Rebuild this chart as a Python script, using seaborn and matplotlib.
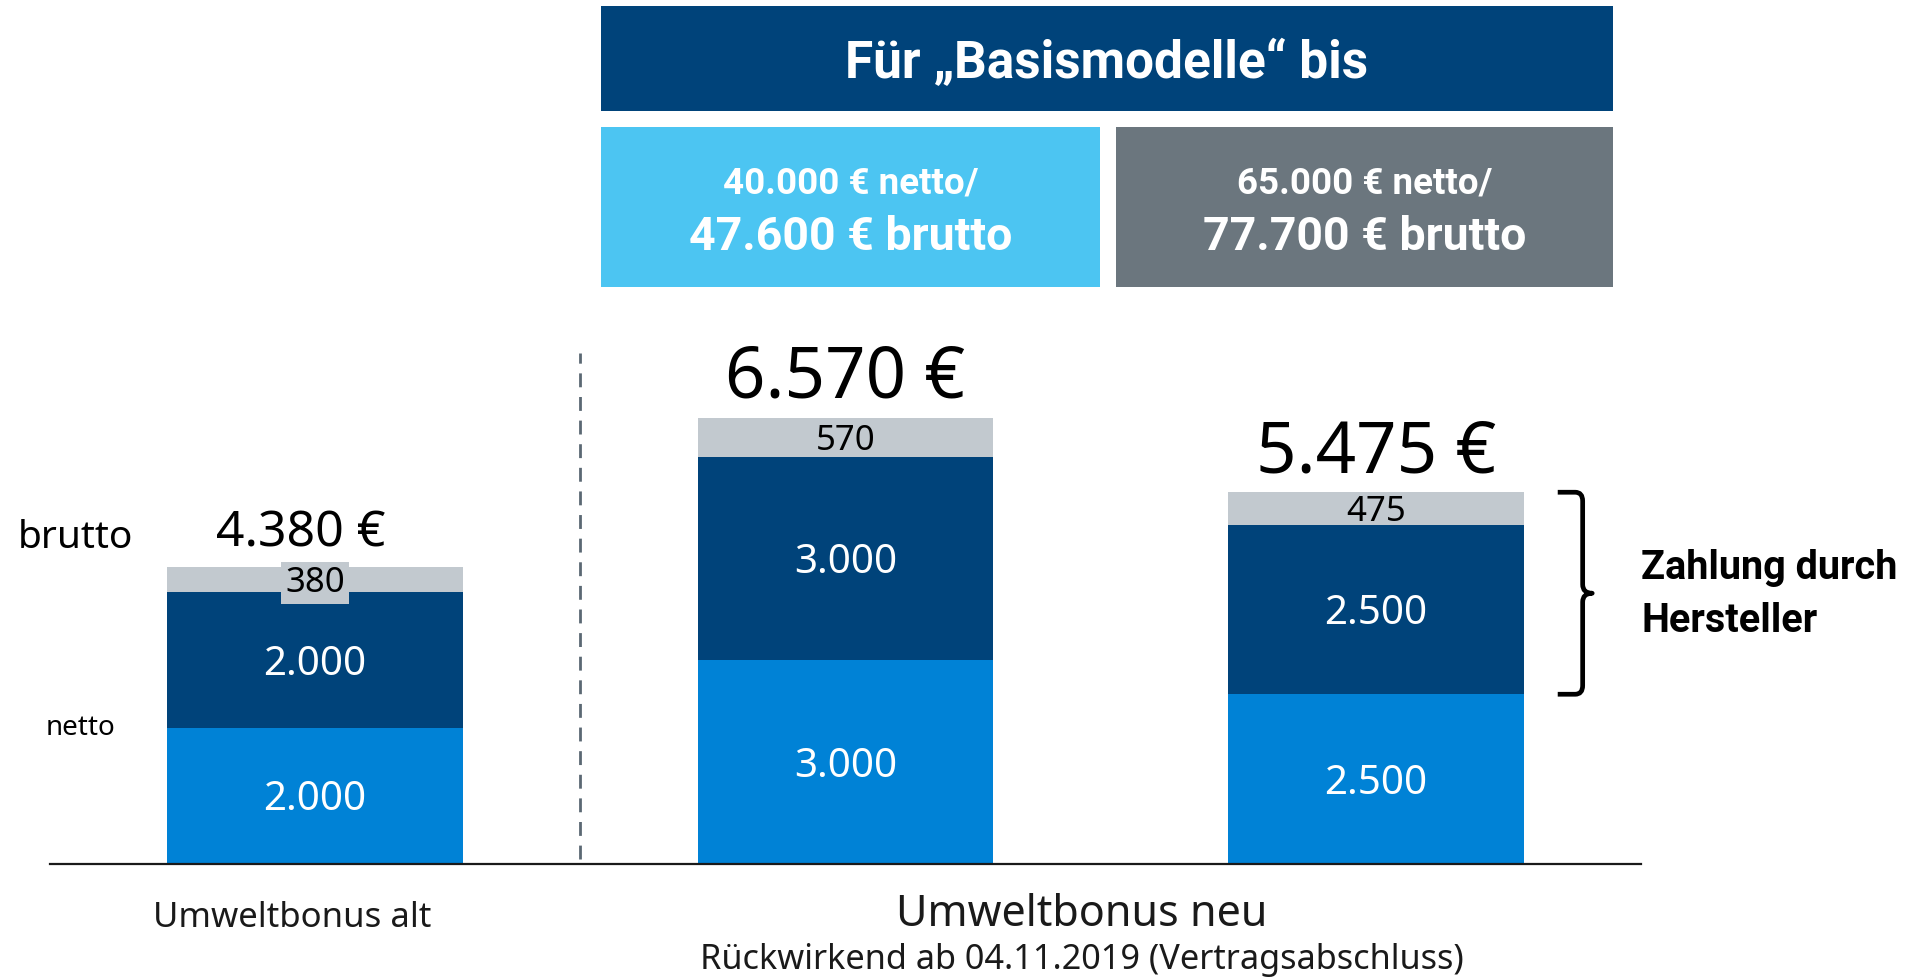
import matplotlib
matplotlib.use("Agg")
import matplotlib.pyplot as plt
import seaborn as sns
import pandas as pd
from matplotlib.patches import Rectangle, PathPatch
from matplotlib.path import Path

# data
categories = ["Umweltbonus alt", "Basismodell bis 40.000 €", "Basismodell bis 65.000 €"]
bund = [2000, 3000, 2500]
hersteller = [2000, 3000, 2500]
mwst = [380, 570, 475]
totals = [4380, 6570, 5475]

header_text = "Für „Basismodelle“ bis"
price_netto = ["40.000 € netto/", "65.000 € netto/"]
price_brutto = ["47.600 € brutto", "77.700 € brutto"]

LIGHT = "#0082d6"
NAVY = "#00437a"
GREY = "#c2c9cf"
BOX_LIGHT = "#4cc5f2"
BOX_GREY = "#6b767e"

sns.set_theme(style="white")
plt.rcParams['font.family'] = ['Noto Sans', 'DejaVu Sans']
BOLD = ['Roboto', 'Lato', 'DejaVu Sans']

W, H = 1916, 980
def fx(px):
    return px / W
def fy(py):
    return 1 - py / H

def de(v):
    return f"{v:,}".replace(",", ".")

fig = plt.figure(figsize=(19.16, 9.8), dpi=100)
ax = fig.add_axes([fx(50), fy(864), (1641 - 50) / W, 864 / H])

df = pd.DataFrame({
    "cat": categories,
    "total": totals,
    "netto": [b + h for b, h in zip(bund, hersteller)],
    "bund": bund,
})

# stacked bars drawn as overlapping cumulative sums
for col, c in [("total", GREY), ("netto", NAVY), ("bund", LIGHT)]:
    sns.barplot(data=df, x="cat", y=col, color=c, width=0.558, saturation=1,
                errorbar=None, linewidth=0, ax=ax)

ax.set_xlim(-0.5, 2.5)
ax.set_ylim(0, 864 / 0.0679)
ax.set_xticks([])
ax.set_yticks([])
ax.set_xlabel("")
ax.set_ylabel("")
sns.despine(ax=ax, left=True)
ax.spines['bottom'].set_color("#1a1a1a")
ax.spines['bottom'].set_linewidth(1.6)

def centered(x, y, txt, size, color, bbox=None):
    # put the digit centre on y (data coords)
    cap = 0.714 * size * 100 / 72
    ax.annotate(txt, (x, y), xytext=(0, -cap / 2), textcoords="offset pixels",
                ha="center", va="baseline", fontsize=size, color=color,
                bbox=bbox, zorder=5)

for i in range(len(categories)):
    centered(i, bund[i] / 2, de(bund[i]), 29, "white")
    centered(i, bund[i] + hersteller[i] / 2, de(hersteller[i]), 29, "white")
    box = None
    if mwst[i] < 400:
        box = dict(boxstyle="square,pad=0.12", fc=GREY, ec="none")
    centered(i, bund[i] + hersteller[i] + mwst[i] / 2, de(mwst[i]), 25, "black", bbox=box)
    size = 36 if i == 0 else 51
    shift = -14 if i == 0 else 0
    ax.annotate(de(totals[i]) + " €", (i, totals[i]), xytext=(shift, 20),
                textcoords="offset pixels", ha="center", va="baseline",
                fontsize=size, color="black")

# dashed divider
ax.vlines(0.5, 80, 7530, colors="#5b6873", linestyles=(0, (5, 3.5)), linewidth=2)

# brace for Hersteller share on the last bar
ytop = totals[2]
ybot = bund[2]
ymid = (ytop + ybot) / 2
xl, xs, xt = 2.343, 2.390, 2.408
rx, ry = 0.014, 130
verts = [(xl, ytop), (xs - rx, ytop), (xs, ytop), (xs, ytop - ry),
         (xs, ymid + ry), (xs, ymid), (xt, ymid), (xs, ymid), (xs, ymid - ry),
         (xs, ybot + ry), (xs, ybot), (xs - rx, ybot), (xl, ybot)]
codes = [Path.MOVETO, Path.LINETO, Path.CURVE3, Path.CURVE3,
         Path.LINETO, Path.CURVE3, Path.CURVE3, Path.CURVE3, Path.CURVE3,
         Path.LINETO, Path.CURVE3, Path.CURVE3, Path.LINETO]
ax.add_patch(PathPatch(Path(verts, codes), fill=False, lw=3.4, ec="black",
                       capstyle="butt", joinstyle="round", clip_on=False))

fig.text(fx(1641), fy(579), "Zahlung durch", fontsize=28.5, fontweight="bold", family=BOLD,
         va="baseline", ha="left", color="black")
fig.text(fx(1641), fy(632), "Hersteller", fontsize=28.5, fontweight="bold", family=BOLD,
         va="baseline", ha="left", color="black")

# left labels
fig.text(fx(18), fy(548), "brutto", fontsize=28, va="baseline", ha="left", color="black")
fig.text(fx(46), fy(735), "netto", fontsize=20, va="baseline", ha="left", color="black")

# category labels
fig.text(fx(292), fy(927), "Umweltbonus alt", fontsize=25, va="baseline", ha="center", color="#1a1a1a")
fig.text(fx(1082), fy(926), "Umweltbonus neu", fontsize=31, va="baseline", ha="center", color="#1a1a1a")
fig.text(fx(1082), fy(969), "Rückwirkend ab 04.11.2019 (Vertragsabschluss)", fontsize=24.7,
         va="baseline", ha="center", color="#1a1a1a")

# header boxes
fig.add_artist(Rectangle((fx(601), fy(111)), (1613 - 601) / W, (111 - 6) / H,
                         transform=fig.transFigure, color=NAVY, lw=0))
fig.text(fx(1107), fy(78), header_text, fontsize=37, fontweight="bold", family=BOLD,
         color="white", ha="center", va="baseline")
for (x0, x1, c), n, b in zip([(601, 1100, BOX_LIGHT), (1116, 1613, BOX_GREY)], price_netto, price_brutto):
    fig.add_artist(Rectangle((fx(x0), fy(287)), (x1 - x0) / W, (287 - 127) / H,
                             transform=fig.transFigure, color=c, lw=0))
    fig.text(fx((x0 + x1) / 2), fy(193), n, fontsize=26.5, fontweight="bold", family=BOLD,
             color="white", ha="center", va="baseline")
    fig.text(fx((x0 + x1) / 2), fy(250), b, fontsize=33.5, fontweight="bold", family=BOLD,
             color="white", ha="center", va="baseline")

fig.savefig("out.png", dpi=100)
